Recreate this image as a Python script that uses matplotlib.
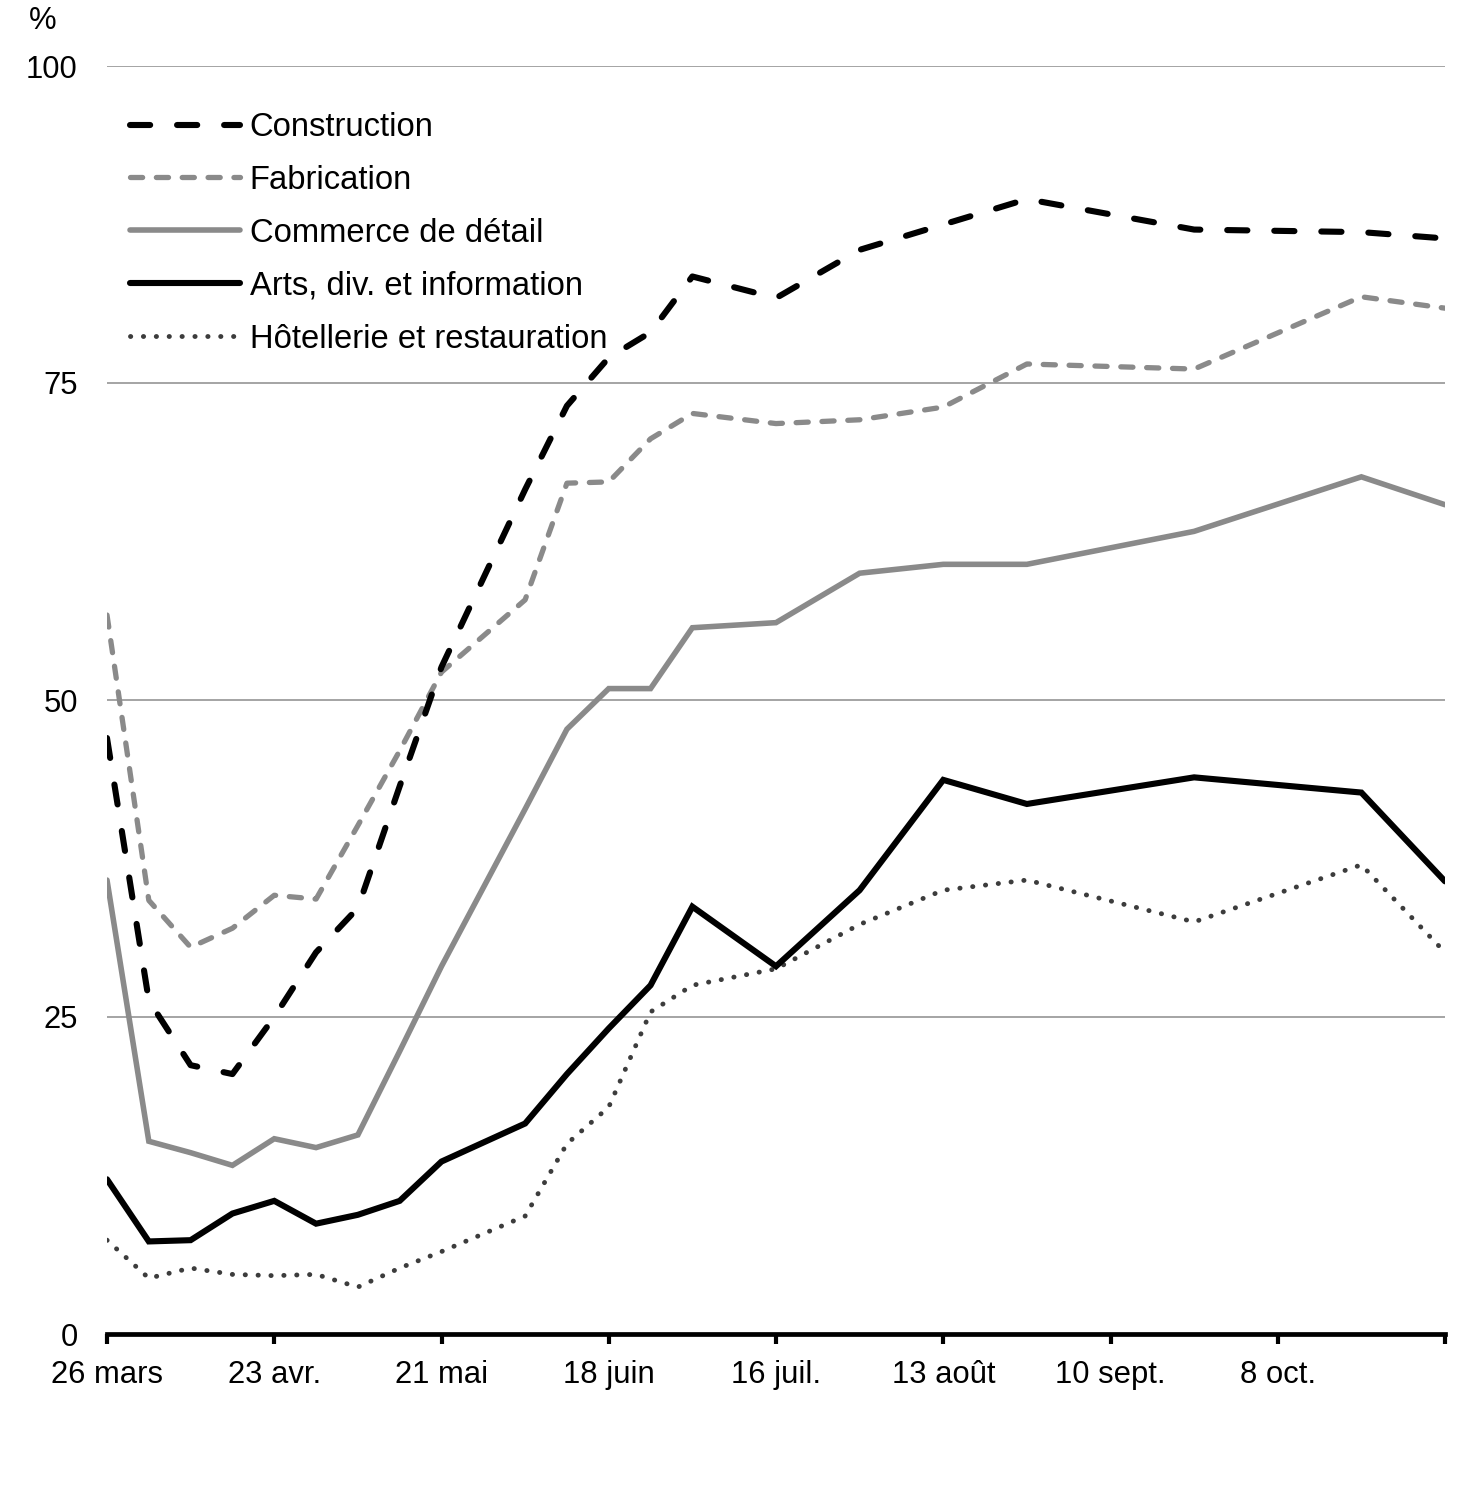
import matplotlib
matplotlib.use("Agg")
import matplotlib.pyplot as plt
import pandas as pd

plt.rcParams['font.family'] = ['Liberation Sans', 'DejaVu Sans']

dates = ['2020-03-26', '2020-04-02', '2020-04-09', '2020-04-16', '2020-04-23',
         '2020-04-30', '2020-05-07', '2020-05-14', '2020-05-21', '2020-06-04',
         '2020-06-11', '2020-06-18', '2020-06-25', '2020-07-02', '2020-07-16',
         '2020-07-30', '2020-08-13', '2020-08-27', '2020-09-24', '2020-10-22',
         '2020-11-05']

construction = [47.0, 26.3, 21.2, 20.5, 25.0, 30.1, 33.6, 43.2, 52.6, 66.6,
                73.2, 77.0, 79.0, 83.4, 81.7, 85.5, 87.5, 89.5, 87.1, 86.9, 86.4]
fabrication = [56.7, 34.2, 30.5, 32.0, 34.6, 34.3, 40.1, 46.0, 52.2, 57.9,
               67.1, 67.2, 70.6, 72.6, 71.8, 72.1, 73.1, 76.5, 76.1, 81.8, 80.9]
commerce = [35.8, 15.2, 14.3, 13.3, 15.4, 14.7, 15.7, 22.3, 29.0, 41.4,
            47.7, 50.9, 50.9, 55.7, 56.1, 60.0, 60.7, 60.7, 63.3, 67.6, 65.4]
arts = [12.2, 7.3, 7.4, 9.5, 10.5, 8.7, 9.4, 10.5, 13.6, 16.6,
        20.5, 24.1, 27.5, 33.7, 29.0, 35.0, 43.7, 41.8, 43.9, 42.7, 35.7]
hotellerie = [7.4, 4.4, 5.2, 4.7, 4.6, 4.7, 3.7, 5.2, 6.5, 9.3,
              15.0, 17.9, 25.4, 27.5, 28.8, 32.3, 35.0, 35.8, 32.5, 37.0, 30.1]

labels = ['Construction', 'Fabrication', 'Commerce de détail',
          'Arts, div. et information', 'Hôtellerie et restauration']

tick_dates = ['2020-03-26', '2020-04-23', '2020-05-21', '2020-06-18',
              '2020-07-16', '2020-08-13', '2020-09-10', '2020-10-08', '2020-11-05']
tick_labels = ['26 mars', '23 avr.', '21 mai', '18 juin', '16 juil.',
               '13 août', '10 sept.', '8 oct.', '']
y_ticks = [0, 25, 50, 75, 100]

x = pd.to_datetime(dates)
xt = pd.to_datetime(tick_dates)

W, H = 1477, 1505
fig = plt.figure(figsize=(W / 100, H / 100), dpi=100)
ax = fig.add_axes([107 / W, 1 - 1334 / H, (1445 - 107) / W, (1334 - 66) / H])

gray = '#8a8a8a'
ax.plot(x, construction, color='black', lw=4.4, dashes=(3.3, 4.4),
        dash_capstyle='round', label=labels[0], zorder=6)
ax.plot(x, fabrication, color=gray, lw=3.8, dashes=(2.3, 2.6),
        dash_capstyle='round', label=labels[1], zorder=5)
ax.plot(x, commerce, color=gray, lw=4.0, solid_capstyle='round',
        solid_joinstyle='miter', label=labels[2], zorder=4)
ax.plot(x, arts, color='black', lw=4.4, solid_capstyle='round',
        solid_joinstyle='miter', label=labels[3], zorder=4)
ax.plot(x, hotellerie, color='#3c3c3c', lw=3.5, dashes=(0.05, 2.6),
        dash_capstyle='round', label=labels[4], zorder=3)

ax.set_xlim(xt[0], xt[-1])
ax.set_ylim(0, 100)
ax.set_xticks(xt)
ax.set_xticklabels(tick_labels)
ax.set_yticks(y_ticks)
ax.set_yticklabels([str(v) for v in y_ticks])

for s in ['top', 'right', 'left']:
    ax.spines[s].set_visible(False)
ax.spines['bottom'].set_linewidth(3.4)
ax.spines['bottom'].set_color('black')
ax.spines['bottom'].set_zorder(7)

ax.grid(axis='y', color='#8c8c8c', lw=1.1)
ax.set_axisbelow(True)
ax.tick_params(axis='y', length=0, pad=21, labelsize=22.3)
ax.tick_params(axis='x', length=7.5, width=3.0, direction='out', pad=11,
               labelsize=22.3, color='black')

fig.text(29 / W, 1 - 21 / H, '%', fontsize=22.3, ha='left', va='center')

ax.legend(loc='upper left', bbox_to_anchor=((130 - 107) / 1338, (1334 - 112) / 1268),
          frameon=False, fontsize=23.6, handlelength=3.35, handletextpad=0.3,
          borderaxespad=0, borderpad=0, labelspacing=0.67)

fig.savefig('out.png', dpi=100)
